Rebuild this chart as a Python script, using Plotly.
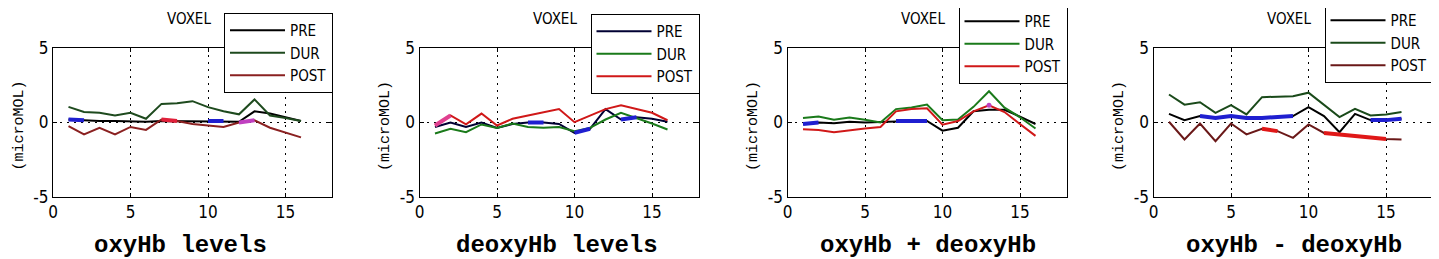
import plotly.graph_objects as go

# page body has an 8px margin, so the figure is drawn from (8, 8) of the window
OFF = 8
W, H = 1439 - OFF, 259 - OFF

# ---------------- data ----------------
x_vals = list(range(1, 17))
series_names = ["PRE", "DUR", "POST"]
panel_titles = ["oxyHb levels", "deoxyHb levels", "oxyHb + deoxyHb", "oxyHb - deoxyHb"]
x_ticks = [0, 5, 10, 15]
x_tick_text = ["0", "5", "10", "15"]
y_ticks = [-5, 0, 5]
y_tick_text = ["-5", "0", "5"]

oxy_pre = [0.2, 0.15, 0.1, 0.1, 0.05, 0.05, 0.1, 0.1, 0.1, 0.1, 0.1, 0.05, 0.75, 0.6, 0.35, 0.1]
oxy_dur = [1.05, 0.7, 0.65, 0.47, 0.65, 0.25, 1.25, 1.3, 1.43, 1.03, 0.76, 0.55, 1.55, 0.47, 0.3, 0.1]
oxy_post = [-0.25, -0.8, -0.36, -0.8, -0.3, -0.5, 0.2, 0.1, -0.1, -0.2, -0.3, 0.0, 0.15, -0.35, -0.65, -1.0]

deoxy_pre = [-0.3, 0.0, -0.3, 0.0, -0.36, -0.1, 0.0, 0.0, -0.1, -0.7, -0.42, 0.9, 0.2, 0.35, 0.25, 0.05]
deoxy_dur = [-0.74, -0.42, -0.65, -0.13, -0.36, -0.07, -0.3, -0.35, -0.3, -0.58, -0.36, 0.2, 0.65, 0.3, -0.07, -0.47]
deoxy_post = [-0.2, 0.47, -0.13, 0.6, -0.2, 0.25, 0.47, 0.7, 0.9, 0.02, 0.47, 0.9, 1.15, 0.92, 0.65, 0.15]

sum_pre = [-0.1, 0.0, -0.05, 0.05, 0.0, 0.05, 0.1, 0.1, 0.1, -0.55, -0.35, 0.75, 0.85, 0.85, 0.4, -0.1]
sum_dur = [0.3, 0.4, 0.18, 0.33, 0.18, 0.0, 0.9, 1.0, 1.2, 0.15, 0.2, 1.05, 2.1, 1.0, 0.35, -0.4]
sum_post = [-0.45, -0.5, -0.65, -0.5, -0.4, -0.3, 0.75, 0.9, 0.95, -0.15, 0.1, 0.75, 1.15, 0.7, -0.1, -0.9]

diff_pre = [0.58, 0.16, 0.43, 0.31, 0.43, 0.31, 0.31, 0.36, 0.43, 1.03, 0.43, -0.65, 0.58, 0.16, 0.16, 0.25]
diff_dur = [1.88, 1.2, 1.36, 0.65, 1.16, 0.54, 1.7, 1.72, 1.77, 2.0, 1.2, 0.36, 0.92, 0.47, 0.54, 0.7]
diff_post = [0.05, -1.14, -0.07, -1.25, -0.07, -0.8, -0.42, -0.58, -1.03, -0.13, -0.7, -0.8, -0.92, -1.03, -1.1, -1.14]

panel_data = [
    [oxy_pre, oxy_dur, oxy_post],
    [deoxy_pre, deoxy_dur, deoxy_post],
    [sum_pre, sum_dur, sum_post],
    [diff_pre, diff_dur, diff_post],
]

# highlighted (thick coloured) stretches: (series index, first x, last x, colour)
highlights = [
    [(0, 1, 2, "#1f1fd0"), (0, 10, 11, "#1f1fd0"), (2, 7, 8, "#e0203a"), (2, 12, 13, "#c040c0")],
    [(0, 7, 8, "#1f1fd0"), (0, 10, 11, "#1f1fd0"), (0, 13, 14, "#1f1fd0"), (2, 1, 2, "#e04090")],
    [(0, 1, 2, "#1f1fd0"), (0, 7, 9, "#1f1fd0"), (2, 13, 13, "#c040c0")],
    [(0, 3, 9, "#1f1fd0"), (0, 14, 16, "#1f1fd0"), (2, 7, 8, "#e01818"), (2, 11, 15, "#e01818")],
]

panel_colors = [
    ["#000000", "#1e4a1e", "#8a2020"],
    ["#000033", "#1a7a1a", "#d01818"],
    ["#000000", "#1a7a1a", "#d01818"],
    ["#000000", "#1a4a1a", "#6a1818"],
]

# ---------------- layout geometry (window pixels) ----------------
ax_left = [53, 419.5, 787.5, 1153.5]
ax_width = 279
ax_top, ax_bottom = 48, 197
legend_top = [13, 14, 4, 3]
xlabel_center = [180, 557, 928, 1294]

def px(xp):
    return (xp - OFF) / W

def py(yp):
    return 1 - (yp - OFF) / H

fig = go.Figure()

sans = "Liberation Sans Narrow, DejaVu Sans Condensed, Liberation Sans, Arial"
mono = "Liberation Mono, Courier New, monospace"

layout = dict(
    width=W, height=H,
    margin=dict(l=0, r=0, t=0, b=0, autoexpand=False),
    paper_bgcolor="white", plot_bgcolor="white",
    annotations=[],
)

for p in range(4):
    sfx = "" if p == 0 else str(p + 1)
    xa, ya = "x" + sfx, "y" + sfx
    leg = "legend" + sfx
    for s in range(3):
        fig.add_trace(go.Scatter(
            x=x_vals, y=panel_data[p][s], mode="lines", name=series_names[s],
            line=dict(color=panel_colors[p][s], width=2),
            xaxis=xa, yaxis=ya, legend=leg, showlegend=True,
        ))
    for (s, a, b, col) in highlights[p]:
        xs = [x for x in x_vals if a <= x <= b]
        ys = [panel_data[p][s][x - 1] for x in xs]
        fig.add_trace(go.Scatter(
            x=xs, y=ys, mode="lines+markers" if a == b else "lines",
            line=dict(color=col, width=4), marker=dict(size=5, color=col),
            xaxis=xa, yaxis=ya, showlegend=False, hoverinfo="skip",
        ))

    common = dict(
        showline=True, linecolor="black", linewidth=1, mirror="ticks",
        ticks="inside", ticklen=4, tickcolor="black",
        showgrid=True, gridcolor="black", gridwidth=1, griddash="2px,5px",
        zeroline=False, tickfont=dict(family=sans, size=17, color="black"),
        fixedrange=True, automargin=False,
    )
    layout["xaxis" + sfx] = dict(
        common, domain=[px(ax_left[p]), px(ax_left[p] + ax_width)],
        range=[0, 18], tickvals=x_ticks, ticktext=x_tick_text, anchor=ya,
    )
    layout["yaxis" + sfx] = dict(
        common, domain=[py(ax_bottom), py(ax_top)],
        range=[-5, 5], tickvals=y_ticks, ticktext=y_tick_text, anchor=xa,
    )
    layout[leg] = dict(
        x=px(ax_left[p] + ax_width + 1), xanchor="right",
        y=py(legend_top[p]), yanchor="top",
        bgcolor="white", bordercolor="black", borderwidth=1,
        font=dict(family=sans, size=15, color="black"),
        itemwidth=55, tracegroupgap=0, traceorder="normal",
    )
    layout["annotations"].append(dict(
        text="VOXEL", x=px(ax_left[p] + ax_width / 2 - 4), y=py(8),
        xref="paper", yref="paper", xanchor="center", yanchor="top", showarrow=False,
        font=dict(family=sans, size=15, color="black"),
    ))
    layout["annotations"].append(dict(
        text="<b>" + panel_titles[p] + "</b>", x=px(xlabel_center[p]), y=py(245),
        xref="paper", yref="paper", xanchor="center", yanchor="middle", showarrow=False,
        font=dict(family=mono, size=24, color="black"),
    ))
    layout["annotations"].append(dict(
        text="(microMOL)", x=px(ax_left[p] - 45), y=py(126),
        xref="paper", yref="paper", xanchor="left", yanchor="middle", showarrow=False,
        textangle=-90,
        font=dict(family=mono, size=15, color="black"),
    ))

fig.update_layout(**layout)
fig.write_html("out.html")
